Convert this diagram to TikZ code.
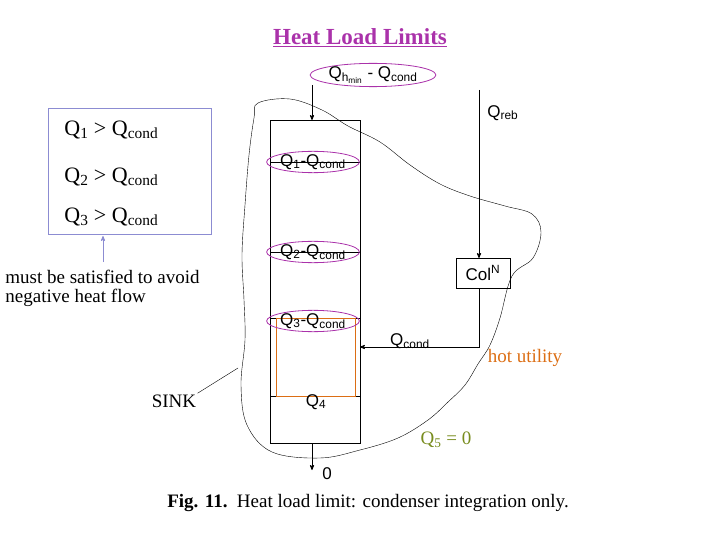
\documentclass[tikz,border=0pt]{standalone}
\usepackage{fontspec}
\setmainfont{Liberation Serif}
\setsansfont{Liberation Sans}
\usepackage{tikz}
\usetikzlibrary{arrows,shapes.geometric}
\definecolor{violet}{RGB}{170,50,170}
\definecolor{lilac}{RGB}{140,140,210}
\definecolor{orng}{RGB}{220,110,20}
\definecolor{olive}{RGB}{120,140,30}
\tikzset{
    flow/.style={draw=violet, ellipse, inner sep=0pt, minimum width=80pt, minimum height=21pt, font=\sffamily\fontsize{17}{17}\selectfont},
    lbl/.style={inner sep=1pt, font=\fontsize{19}{19}\selectfont},
    slbl/.style={inner sep=1pt, font=\sffamily\fontsize{17}{17}\selectfont},
    cond/.style={inner sep=0pt, anchor=west, font=\fontsize{22}{22}\selectfont},
}
\begin{document}
\begin{tikzpicture}[x=1pt,y=-1pt,->,>=stealth',thick]
 \useasboundingbox (0,0) rectangle (720,540);

 % title
 \node[font=\bfseries\fontsize{23}{23}\selectfont, text=violet] (TITLE) at (360,38) {\underline{Heat\ Load\ Limits}};

 % heat region
 \draw[-,thin] plot[smooth cycle, tension=0.6] coordinates {(258,103) (290,99) (322,110) (348,126) (380,142) (410,165) (440,184) (470,196) (505,206) (532,214) (541,232) (533,258) (512,276) (500,318) (490,345) (478,364) (465,385) (448,402) (428,420) (398,438) (360,450) (320,458) (272,452) (247,425) (241,385) (245,340) (244,300) (242,255) (245,205) (249,155) (254,118)};

 % column and stage lines
 \draw[-,thin] (270,120) rectangle (360,443);
 \foreach \y in {162,252,318,396}
  \draw[-,thin] (270,\y) -- (360,\y);
 \draw[-,orng,thin] (276,318) rectangle (355,396);

 % heat flows
 \node[flow, minimum width=112pt] (QH) at (373,75) {Q\textsubscript{h\textsubscript{min}} - Q\textsubscript{cond}};
 \node[flow] (Q1) at (313,162) {Q\textsubscript{1}-Q\textsubscript{cond}};
 \node[flow] (Q2) at (313,252) {Q\textsubscript{2}-Q\textsubscript{cond}};
 \node[flow] (Q3) at (313,321) {Q\textsubscript{3}-Q\textsubscript{cond}};
 \node[slbl] (Q4) at (316,402) {Q\textsubscript{4}};
 \coordinate (TOP) at (312,120);
 \draw (312,85) -- (TOP);

 % reboiler side
 \coordinate (REB) at (479,90);
 \node[slbl, anchor=west] (QREB) at (486,113) {Q\textsubscript{reb}};
 \node[draw, thin, minimum width=54pt, minimum height=30pt, slbl] (COL) at (483,273) {Col\textsuperscript{N}};
 \draw (REB) -- (479,258);
 \coordinate (IN) at (360,347);
 \draw (479,288) -- (479,347) -- (IN);
 \node[slbl] (QC) at (410,341) {Q\textsubscript{cond}};

 % bottom
 \coordinate (BOT) at (312,470);
 \draw (312,443) -- (BOT);
 \node[slbl] (ZERO) at (327,474) {0};
 \node[lbl, text=orng] (HOT) at (525,358) {hot utility};
 \node[lbl, text=olive] (Q5) at (446,440) {Q\textsubscript{5} = 0};
 \node[lbl] (SINK) at (174,401) {SINK};
 \coordinate (SK) at (238,368);
 \draw[-,thin] (SINK.north east) -- (SK);

 % conditions
 \draw[-,lilac,thin] (48,108) rectangle (211,234);
 \node[cond] (C1) at (64,130) {Q\textsubscript{1} > Q\textsubscript{cond}};
 \node[cond] (C2) at (64,177) {Q\textsubscript{2} > Q\textsubscript{cond}};
 \node[cond] (C3) at (64,217) {Q\textsubscript{3} > Q\textsubscript{cond}};
 \coordinate (UP) at (103,236);
 \draw[lilac] (103,262) -- (UP);
 \node[lbl, anchor=north west, align=left] (NOTE) at (4,269) {must be satisfied to avoid\\negative heat flow};

 % caption
 \node[lbl] (CAP) at (368,503) {\textbf{Fig. 11.}\ \ Heat load limit: condenser integration only.};
\end{tikzpicture}
\end{document}
